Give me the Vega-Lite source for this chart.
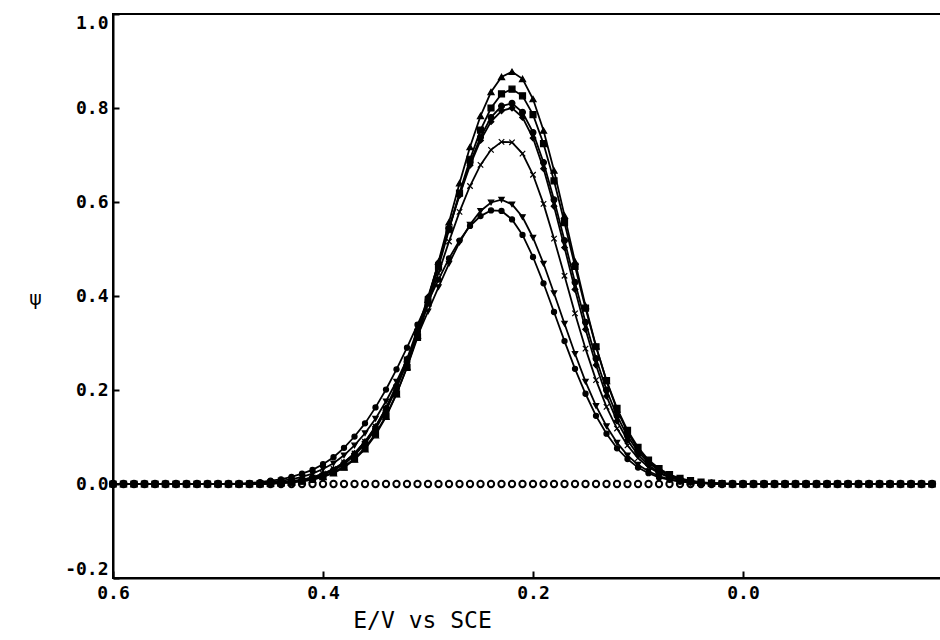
{
  "$schema": "https://vega.github.io/schema/vega-lite/v6.json",
  "autosize": "none",
  "width": 829,
  "height": 564,
  "padding": {"left": 113, "top": 14, "right": 0, "bottom": 62},
  "background": "white",
  "config": {
    "view": {"stroke": "black", "strokeWidth": 2},
    "axis": {
      "domainColor": "black", "domainWidth": 2, "tickColor": "black", "tickWidth": 2,
      "labelColor": "black", "labelFont": "DejaVu Sans Mono", "labelFontWeight": "bold", "labelFontSize": 18,
      "grid": false, "titleColor": "black"
    }
  },
  "data": {"values": [
    {"E":0.60,"z":0,"a":0,"b":0,"c":0,"d":0,"e":0,"f":0,"g":0},
    {"E":0.59,"z":0,"a":0,"b":0,"c":0,"d":0,"e":0,"f":0,"g":0},
    {"E":0.58,"z":0,"a":0,"b":0,"c":0,"d":0,"e":0,"f":0,"g":0},
    {"E":0.57,"z":0,"a":0,"b":0,"c":0,"d":0,"e":0,"f":0,"g":0},
    {"E":0.56,"z":0,"a":0,"b":0,"c":0,"d":0,"e":0,"f":0,"g":0},
    {"E":0.55,"z":0,"a":0,"b":0,"c":0,"d":0,"e":0,"f":0,"g":0},
    {"E":0.54,"z":0,"a":0,"b":0,"c":0,"d":0,"e":0,"f":0,"g":0},
    {"E":0.53,"z":0,"a":0,"b":0,"c":0,"d":0,"e":0,"f":0,"g":0},
    {"E":0.52,"z":0,"a":0,"b":0,"c":0,"d":0,"e":0,"f":0,"g":0},
    {"E":0.51,"z":0,"a":0,"b":0,"c":0,"d":0,"e":0,"f":0,"g":0},
    {"E":0.50,"z":0,"a":0,"b":0,"c":0,"d":0,"e":0,"f":0,"g":0},
    {"E":0.49,"z":0,"a":0,"b":0,"c":0,"d":0,"e":0,"f":0,"g":0},
    {"E":0.48,"z":0,"a":0,"b":0,"c":0,"d":0,"e":0,"f":0,"g":0.001},
    {"E":0.47,"z":0,"a":0,"b":0,"c":0,"d":0,"e":0,"f":0.001,"g":0.002},
    {"E":0.46,"z":0,"a":0,"b":0,"c":0.001,"d":0.001,"e":0.001,"f":0.002,"g":0.004},
    {"E":0.45,"z":0,"a":0.001,"b":0.001,"c":0.002,"d":0.002,"e":0.002,"f":0.004,"g":0.007},
    {"E":0.44,"z":0,"a":0.002,"b":0.002,"c":0.003,"d":0.003,"e":0.004,"f":0.007,"g":0.010},
    {"E":0.43,"z":0,"a":0.003,"b":0.004,"c":0.005,"d":0.006,"e":0.006,"f":0.010,"g":0.015},
    {"E":0.42,"z":0,"a":0.006,"b":0.006,"c":0.008,"d":0.009,"e":0.009,"f":0.015,"g":0.022},
    {"E":0.41,"z":0,"a":0.009,"b":0.010,"c":0.012,"d":0.014,"e":0.014,"f":0.022,"g":0.030},
    {"E":0.40,"z":0,"a":0.015,"b":0.016,"c":0.019,"d":0.021,"e":0.022,"f":0.032,"g":0.042},
    {"E":0.39,"z":0,"a":0.023,"b":0.025,"c":0.029,"d":0.031,"e":0.032,"f":0.044,"g":0.057},
    {"E":0.38,"z":0,"a":0.035,"b":0.037,"c":0.042,"d":0.046,"e":0.046,"f":0.061,"g":0.077},
    {"E":0.37,"z":0,"a":0.052,"b":0.054,"c":0.061,"d":0.065,"e":0.065,"f":0.082,"g":0.101},
    {"E":0.36,"z":0,"a":0.074,"b":0.077,"c":0.085,"d":0.090,"e":0.090,"f":0.108,"g":0.129},
    {"E":0.35,"z":0,"a":0.104,"b":0.107,"c":0.117,"d":0.122,"e":0.122,"f":0.139,"g":0.163},
    {"E":0.34,"z":0,"a":0.143,"b":0.145,"c":0.156,"d":0.162,"e":0.160,"f":0.176,"g":0.201},
    {"E":0.33,"z":0,"a":0.191,"b":0.192,"c":0.204,"d":0.210,"e":0.206,"f":0.218,"g":0.244},
    {"E":0.32,"z":0,"a":0.249,"b":0.248,"c":0.260,"d":0.266,"e":0.259,"f":0.265,"g":0.290},
    {"E":0.31,"z":0,"a":0.316,"b":0.312,"c":0.324,"d":0.329,"e":0.318,"f":0.315,"g":0.339},
    {"E":0.30,"z":0,"a":0.392,"b":0.385,"c":0.394,"d":0.398,"e":0.383,"f":0.367,"g":0.388},
    {"E":0.29,"z":0,"a":0.473,"b":0.462,"c":0.469,"d":0.470,"e":0.449,"f":0.419,"g":0.435},
    {"E":0.28,"z":0,"a":0.557,"b":0.541,"c":0.544,"d":0.544,"e":0.516,"f":0.469,"g":0.480},
    {"E":0.27,"z":0,"a":0.640,"b":0.619,"c":0.617,"d":0.614,"e":0.579,"f":0.514,"g":0.518},
    {"E":0.26,"z":0,"a":0.717,"b":0.691,"c":0.683,"d":0.678,"e":0.634,"f":0.552,"g":0.549},
    {"E":0.25,"z":0,"a":0.783,"b":0.753,"c":0.738,"d":0.731,"e":0.679,"f":0.581,"g":0.570},
    {"E":0.24,"z":0,"a":0.834,"b":0.800,"c":0.780,"d":0.771,"e":0.711,"f":0.599,"g":0.582},
    {"E":0.23,"z":0,"a":0.866,"b":0.830,"c":0.804,"d":0.794,"e":0.728,"f":0.605,"g":0.581},
    {"E":0.22,"z":0,"a":0.877,"b":0.840,"c":0.810,"d":0.800,"e":0.727,"f":0.595,"g":0.563},
    {"E":0.21,"z":0,"a":0.862,"b":0.826,"c":0.791,"d":0.780,"e":0.703,"f":0.568,"g":0.530},
    {"E":0.20,"z":0,"a":0.819,"b":0.786,"c":0.748,"d":0.736,"e":0.658,"f":0.524,"g":0.483},
    {"E":0.19,"z":0,"a":0.752,"b":0.724,"c":0.684,"d":0.671,"e":0.596,"f":0.469,"g":0.427},
    {"E":0.18,"z":0,"a":0.667,"b":0.645,"c":0.605,"d":0.591,"e":0.522,"f":0.406,"g":0.366},
    {"E":0.17,"z":0,"a":0.571,"b":0.556,"c":0.518,"d":0.503,"e":0.443,"f":0.341,"g":0.304},
    {"E":0.16,"z":0,"a":0.473,"b":0.463,"c":0.429,"d":0.414,"e":0.363,"f":0.277,"g":0.245},
    {"E":0.15,"z":0,"a":0.379,"b":0.374,"c":0.344,"d":0.329,"e":0.288,"f":0.218,"g":0.192},
    {"E":0.14,"z":0,"a":0.293,"b":0.292,"c":0.267,"d":0.253,"e":0.221,"f":0.166,"g":0.145},
    {"E":0.13,"z":0,"a":0.219,"b":0.220,"c":0.200,"d":0.187,"e":0.164,"f":0.123,"g":0.107},
    {"E":0.12,"z":0,"a":0.158,"b":0.161,"c":0.145,"d":0.134,"e":0.118,"f":0.088,"g":0.076},
    {"E":0.11,"z":0,"a":0.110,"b":0.114,"c":0.102,"d":0.093,"e":0.082,"f":0.061,"g":0.053},
    {"E":0.10,"z":0,"a":0.074,"b":0.078,"c":0.069,"d":0.062,"e":0.055,"f":0.041,"g":0.035},
    {"E":0.09,"z":0,"a":0.048,"b":0.051,"c":0.045,"d":0.040,"e":0.036,"f":0.027,"g":0.023},
    {"E":0.08,"z":0,"a":0.030,"b":0.033,"c":0.029,"d":0.025,"e":0.023,"f":0.017,"g":0.014},
    {"E":0.07,"z":0,"a":0.019,"b":0.020,"c":0.018,"d":0.015,"e":0.014,"f":0.010,"g":0.009},
    {"E":0.06,"z":0,"a":0.011,"b":0.012,"c":0.011,"d":0.009,"e":0.008,"f":0.006,"g":0.005},
    {"E":0.05,"z":0,"a":0.006,"b":0.007,"c":0.006,"d":0.005,"e":0.005,"f":0.003,"g":0.003},
    {"E":0.04,"z":0,"a":0.003,"b":0.004,"c":0.003,"d":0.003,"e":0.003,"f":0.002,"g":0.002},
    {"E":0.03,"z":0,"a":0.002,"b":0.002,"c":0.002,"d":0.001,"e":0.001,"f":0.001,"g":0.001},
    {"E":0.02,"z":0,"a":0.001,"b":0.001,"c":0.001,"d":0.001,"e":0.001,"f":0,"g":0},
    {"E":0.01,"z":0,"a":0,"b":0,"c":0,"d":0,"e":0,"f":0,"g":0},
    {"E":0.00,"z":0,"a":0,"b":0,"c":0,"d":0,"e":0,"f":0,"g":0},
    {"E":-0.01,"z":0,"a":0,"b":0,"c":0,"d":0,"e":0,"f":0,"g":0},
    {"E":-0.02,"z":0,"a":0,"b":0,"c":0,"d":0,"e":0,"f":0,"g":0},
    {"E":-0.03,"z":0,"a":0,"b":0,"c":0,"d":0,"e":0,"f":0,"g":0},
    {"E":-0.04,"z":0,"a":0,"b":0,"c":0,"d":0,"e":0,"f":0,"g":0},
    {"E":-0.05,"z":0,"a":0,"b":0,"c":0,"d":0,"e":0,"f":0,"g":0},
    {"E":-0.06,"z":0,"a":0,"b":0,"c":0,"d":0,"e":0,"f":0,"g":0},
    {"E":-0.07,"z":0,"a":0,"b":0,"c":0,"d":0,"e":0,"f":0,"g":0},
    {"E":-0.08,"z":0,"a":0,"b":0,"c":0,"d":0,"e":0,"f":0,"g":0},
    {"E":-0.09,"z":0,"a":0,"b":0,"c":0,"d":0,"e":0,"f":0,"g":0},
    {"E":-0.10,"z":0,"a":0,"b":0,"c":0,"d":0,"e":0,"f":0,"g":0},
    {"E":-0.11,"z":0,"a":0,"b":0,"c":0,"d":0,"e":0,"f":0,"g":0},
    {"E":-0.12,"z":0,"a":0,"b":0,"c":0,"d":0,"e":0,"f":0,"g":0},
    {"E":-0.13,"z":0,"a":0,"b":0,"c":0,"d":0,"e":0,"f":0,"g":0},
    {"E":-0.14,"z":0,"a":0,"b":0,"c":0,"d":0,"e":0,"f":0,"g":0},
    {"E":-0.15,"z":0,"a":0,"b":0,"c":0,"d":0,"e":0,"f":0,"g":0},
    {"E":-0.16,"z":0,"a":0,"b":0,"c":0,"d":0,"e":0,"f":0,"g":0},
    {"E":-0.17,"z":0,"a":0,"b":0,"c":0,"d":0,"e":0,"f":0,"g":0},
    {"E":-0.18,"z":0,"a":0,"b":0,"c":0,"d":0,"e":0,"f":0,"g":0}
  ]},
  "encoding": {
    "x": {
      "field": "E", "type": "quantitative",
      "scale": {"domain": [0.6, -0.1895], "nice": false, "zero": false},
      "axis": {
        "orient": "bottom", "values": [0.6, 0.4, 0.2, 0.0],
        "labelExpr": "replace(format(datum.value, '.1f'), '\u2212', '-')",
        "tickSize": -7, "labelPadding": 13, "labelFlush": false,
        "title": "E/V   vs   SCE", "titleFont": "DejaVu Sans Mono", "titleFontSize": 23,
        "titleFontWeight": "normal", "titleX": 309, "titleY": 42, "titleBaseline": "middle", "titleAlign": "center"
      }
    }
  },
  "layer": [
    {
      "mark": {"type": "point", "shape": "circle", "filled": false, "stroke": "black", "strokeWidth": 2, "size": 40, "opacity": 1},
      "encoding": {
        "y": {
          "field": "z", "type": "quantitative",
          "scale": {"domain": [-0.2, 1.0], "nice": false, "zero": false},
          "axis": {
            "orient": "left", "values": [-0.2, 0, 0.2, 0.4, 0.6, 0.8, 1.0],
            "labelExpr": "replace(format(datum.value, '.1f'), '\u2212', '-')",
            "tickSize": -6, "labelPadding": 11, "labelFlush": true,
            "title": "\u03c8", "titleAngle": 0, "titleFont": "DejaVu Sans", "titleFontSize": 19,
            "titleFontWeight": "normal", "titleX": -78, "titleY": 284, "titleAlign": "center", "titleBaseline": "middle"
          }
        }
      }
    },
    {
      "transform": [{"fold": ["a", "b", "c", "d", "e", "f", "g"], "as": ["s", "p"]}],
      "mark": {"type": "line", "color": "black", "strokeWidth": 1.8},
      "encoding": {
        "y": {"field": "p", "type": "quantitative"},
        "detail": {"field": "s", "type": "nominal"}
      }
    },
    {
      "transform": [{"fold": ["a", "b", "c", "d", "e", "f", "g"], "as": ["s", "p"]}],
      "mark": {"type": "point", "filled": true, "fill": "black", "stroke": "black", "strokeWidth": 1.2, "opacity": 1},
      "encoding": {
        "y": {"field": "p", "type": "quantitative"},
        "order": {"field": "s", "sort": "ascending"},
        "shape": {
          "field": "s", "type": "nominal", "legend": null,
          "scale": {
            "domain": ["a", "b", "c", "d", "e", "f", "g"],
            "range": ["triangle-up", "square", "circle", "diamond", "M-1,-1L1,1M1,-1L-1,1", "triangle-down", "circle"]
          }
        },
        "size": {
          "field": "s", "type": "nominal", "legend": null,
          "scale": {
            "domain": ["a", "b", "c", "d", "e", "f", "g"],
            "range": [38, 26, 34, 32, 38, 34, 56]
          }
        }
      }
    }
  ]
}
